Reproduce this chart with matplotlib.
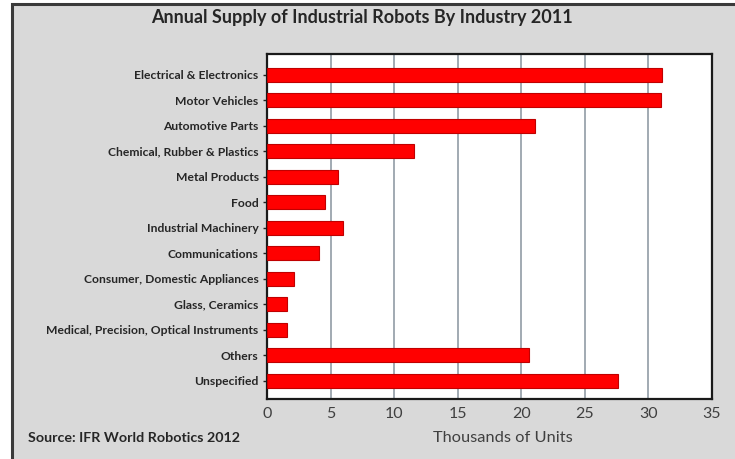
import matplotlib
matplotlib.use("Agg")
import matplotlib.pyplot as plt
from matplotlib.patches import Rectangle

# Annual supply of industrial robots by industry, 2011 (thousands of units)
industries = [
    "Electrical & Electronics",
    "Motor Vehicles",
    "Automotive Parts",
    "Chemical, Rubber & Plastics",
    "Metal Products",
    "Food",
    "Industrial Machinery",
    "Communications",
    "Consumer, Domestic Appliances",
    "Glass, Ceramics",
    "Medical, Precision, Optical Instruments",
    "Others",
    "Unspecified",
]
units_thousands = [31.1, 31.0, 21.1, 11.6, 5.6, 4.6, 6.0, 4.1, 2.1, 1.6, 1.6, 20.6, 27.6]
x_ticks = [0, 5, 10, 15, 20, 25, 30, 35]

W, H = 735, 459
fig = plt.figure(figsize=(W / 100, H / 100), dpi=100)
fig.patch.set_facecolor("white")

# grey panel with a dark frame (only left/top edges fall inside the image)
panel = Rectangle((12 / W, -0.5), 1.5, 0.5 + (H - 4) / H, transform=fig.transFigure,
                  facecolor="#d9d9d9", edgecolor="#3a3a3a", linewidth=2.2,
                  clip_on=False, zorder=-5)
fig.patches.append(panel)

ax = fig.add_axes([267 / W, (H - 399) / H, (712 - 267) / W, (399 - 54) / H])
ax.set_zorder(2)
ax.set_facecolor("white")

ypos = list(range(len(industries)))
ax.barh(ypos, units_thousands, height=0.55, color="#ff0000",
        edgecolor="#c00000", linewidth=0.8, zorder=3)

ax.set_xlim(0, 35)
ax.set_ylim(len(industries) - 1 + 0.71, -0.81)
ax.set_xticks(x_ticks)
ax.set_xticklabels([str(t) for t in x_ticks], fontsize=11.5, color="#404040",
                   family="Lato")
ax.set_yticks(ypos)
ax.set_yticklabels(industries, fontsize=8.7, fontweight="bold",
                   color="#262626", family="Lato")
ax.tick_params(axis="x", length=0, pad=6)
ax.tick_params(axis="y", length=3, width=1, color="#202020", pad=3)

ax.xaxis.grid(True, color="#9aa4ad", linewidth=1.3, zorder=1)
ax.set_axisbelow(True)
for s in ax.spines.values():
    s.set_color("#1a1a1a")
    s.set_linewidth(1.6)

fig.text(503 / W, 1 - 438 / H, "Thousands of Units", ha="center", va="center",
         fontsize=11.8, color="#404040", family="Lato")

fig.text(362 / W, 1 - 18 / H, "Annual Supply of Industrial Robots By Industry 2011",
         ha="center", va="center", fontsize=13, fontweight="bold",
         color="#262626", family="Lato")
fig.text(28 / W, 1 - 438 / H, "Source: IFR World Robotics 2012",
         ha="left", va="center", fontsize=10.3, fontweight="bold",
         color="#262626", family="Lato")

fig.savefig("out.png", dpi=100, facecolor=fig.get_facecolor())
